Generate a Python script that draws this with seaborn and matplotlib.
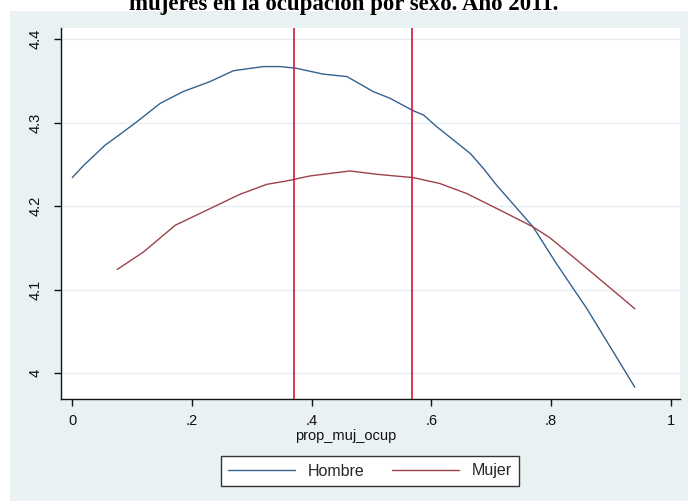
"""
Perfil de salario (log) según proporción de mujeres en la ocupación, por sexo.
Réplica del gráfico estilo Stata s2color.
"""

import pandas as pd
import matplotlib
matplotlib.use('Agg')
import matplotlib.pyplot as plt
from matplotlib.patches import Rectangle
import seaborn as sns

# --- datos ---
hombre_x = [0.000, 0.018, 0.055, 0.080, 0.108, 0.147, 0.185, 0.230, 0.269, 0.319,
            0.347, 0.374, 0.419, 0.459, 0.503, 0.531, 0.570, 0.587, 0.609, 0.637,
            0.665, 0.687, 0.709, 0.770, 0.809, 0.860, 0.940]
hombre_y = [4.234, 4.248, 4.273, 4.286, 4.301, 4.323, 4.337, 4.349, 4.362, 4.367,
            4.367, 4.365, 4.358, 4.355, 4.337, 4.329, 4.314, 4.309, 4.295, 4.279,
            4.263, 4.245, 4.225, 4.175, 4.131, 4.077, 3.983]

mujer_x = [0.075, 0.119, 0.172, 0.213, 0.280, 0.325, 0.358, 0.397, 0.419, 0.464,
           0.509, 0.570, 0.614, 0.659, 0.715, 0.770, 0.798, 0.837, 0.882, 0.940]
mujer_y = [4.124, 4.145, 4.177, 4.191, 4.214, 4.226, 4.230, 4.236, 4.238, 4.242,
           4.238, 4.234, 4.227, 4.215, 4.195, 4.175, 4.162, 4.139, 4.112, 4.077]

cortes = [0.370, 0.567]  # líneas verticales de referencia

x_ticks = [0, 0.2, 0.4, 0.6, 0.8, 1.0]
x_labels = ['0', '.2', '.4', '.6', '.8', '1']
y_ticks = [4.0, 4.1, 4.2, 4.3, 4.4]
y_labels = ['4', '4.1', '4.2', '4.3', '4.4']

titulo = 'mujeres en la ocupación por sexo. Año 2011.'

df = pd.concat([
    pd.DataFrame({'prop_muj_ocup': hombre_x, 'lw': hombre_y, 'sexo': 'Hombre'}),
    pd.DataFrame({'prop_muj_ocup': mujer_x, 'lw': mujer_y, 'sexo': 'Mujer'}),
])

sns.set_theme(style='white')
plt.rcParams['font.family'] = ['Liberation Sans', 'DejaVu Sans']

W, H = 688, 501
fig = plt.figure(figsize=(W / 100, H / 100), dpi=100, facecolor='white')

# fondo azulado del gráfico (estilo Stata)
bg = '#eaf1f3'
fig.patches.append(Rectangle((10 / W, 0), 1 - 10 / W, 1 - 11 / H,
                             transform=fig.transFigure, facecolor=bg,
                             edgecolor='none', zorder=-5))

ax = fig.add_axes([61 / W, 1 - 399 / H, (680 - 61) / W, (399 - 27.5) / H])
ax.set_zorder(2)
ax.set_facecolor('white')

palette = {'Hombre': '#34618d', 'Mujer': '#9c4249'}
sns.lineplot(data=df, x='prop_muj_ocup', y='lw', hue='sexo', palette=palette,
             linewidth=1.0, ax=ax, sort=False)

for c in cortes:
    ax.axvline(c, color='#d6143c', linewidth=1.2, zorder=3)

ax.set_xlim(-0.0189, 1.0155)
ax.set_ylim(3.9689, 4.4138)
ax.set_xticks(x_ticks, x_labels)
ax.set_yticks(y_ticks, y_labels)
for lbl in ax.get_yticklabels():
    lbl.set_rotation(90)
    lbl.set_va('center')
ax.yaxis.grid(True, color='#e6eef1', linewidth=1.0)
ax.set_axisbelow(True)

for s in ['top', 'right']:
    ax.spines[s].set_visible(False)
for s in ['left', 'bottom']:
    ax.spines[s].set_color('#111111')
    ax.spines[s].set_linewidth(1.0)

ax.tick_params(axis='both', which='major', direction='out', length=5, width=1,
               color='#111111', labelsize=10.5, labelcolor='#111111', bottom=True, left=True)
ax.tick_params(axis='y', pad=8)
ax.tick_params(axis='x', pad=6)
ax.set_xlabel('')
ax.set_ylabel('')

fig.text(346 / W, 1 - 436 / H, 'prop_muj_ocup', ha='center', va='center',
         fontsize=10.5, color='#111111')

# título (cortado arriba como en el original)
fig.text(344 / W, 1 - 10 / H, titulo, ha='center', va='baseline', zorder=5,
         fontsize=16.5, fontweight='bold', family='Liberation Serif', color='black')

sns.move_legend(ax, 'center', bbox_to_anchor=(370 / W, 1 - 471 / H),
                bbox_transform=fig.transFigure, ncol=2, title=None,
                frameon=True, fancybox=False, fontsize=11.5,
                handlelength=4.2, handletextpad=0.8, columnspacing=1.7,
                borderpad=0.45)
leg = ax.get_legend()
leg.get_frame().set_edgecolor('#333333')
leg.get_frame().set_linewidth(1.0)
leg.get_frame().set_facecolor('white')
leg.get_frame().set_alpha(1)

fig.savefig('out.png', dpi=100, facecolor='white')
plt.close(fig)
